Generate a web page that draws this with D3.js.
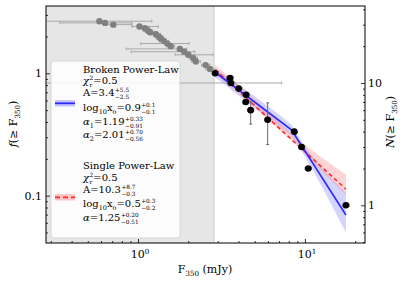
<!DOCTYPE html>
<html>
<head>
<meta charset="utf-8">
<script src="https://cdn.jsdelivr.net/npm/d3@7"></script>
<style>
  body { margin: 0; background: #fff; }
  text { font-family: "DejaVu Serif", serif; fill: #000; white-space: pre; }
</style>
</head>
<body>
<svg id="chart"></svg>
<script>
// completeness limit (mJy)
const fluxLimit = 2.85;

// gray points (below the limit): flux, N, flux error range
const grayFlux = [0.2, 0.587, 0.634, 0.711, 1.02, 1.10, 1.14, 1.18, 1.28, 1.33, 1.37, 1.43, 1.50, 1.57, 1.78, 1.89, 2.00, 2.14, 2.22, 2.54, 2.70];
const grayN    = [10, 32, 31, 30, 29, 28, 27, 26, 25, 24, 23, 22, 21, 20, 19, 18, 17, 16, 15, 14, 13];
const grayLo   = [0.1, 0.25, 0.34, 0.65, 0.92, 1.04, 1.08, 1.12, 1.21, 1.26, 1.30, 1.35, 1.04, 1.49, 0.85, 0.91, 1.67, 2.02, 2.10, 2.40, 2.55];
const grayHi   = [7.25, 1.21, 0.92, 0.92, 1.32, 1.17, 1.21, 1.25, 1.36, 1.41, 1.45, 1.52, 2.02, 1.66, 1.96, 2.19, 2.81, 2.27, 2.36, 2.69, 2.86];

// black points (above the limit)
const blackFlux = [2.90, 3.56, 3.60, 4.01, 4.44, 4.42, 4.73, 5.98, 8.63, 9.55, 10.47, 17.6];
const blackN    = [12, 11, 10, 9, 8, 7, 6, 5, 4, 3, 2, 1];
const blackNLo  = [11.6, 10.6, 9.6, 8.6, 7.7, 6.7, 4.61, 3.14, 3.85, 2.9, 1.93, 0.97];
const blackNHi  = [12.4, 11.4, 10.4, 9.4, 8.3, 7.3, 7.03, 6.88, 4.15, 3.1, 2.07, 1.03];
const blackFLo  = [2.78, 3.40, 3.45, 3.84, 4.25, 4.24, 4.53, 5.73, 8.27, 9.15, 10.03, 16.9];
const blackFHi  = [3.02, 3.72, 3.76, 4.19, 4.64, 4.61, 4.94, 6.24, 9.00, 9.96, 10.92, 18.4];
const totalN = 12;

// broken power-law fit (f) and band
const brokenFlux = [2.9, 8.3, 17.6];
const brokenF    = [1.02, 0.345, 0.0695];
const brokenBandFlux = [2.9, 4.5, 7.0, 8.3, 10, 13, 17.6];
const brokenBandLo   = [0.93, 0.58, 0.37, 0.31, 0.21, 0.11, 0.050];
const brokenBandHi   = [1.10, 0.72, 0.46, 0.38, 0.25, 0.16, 0.105];

// single power-law fit (f) and band
const singleFlux = [2.9, 17.6];
const singleF    = [1.07, 0.113];
const singleBandFlux = [2.9, 4.5, 7.0, 9.0, 12, 17.6];
const singleBandLo   = [0.98, 0.60, 0.345, 0.255, 0.17, 0.101];
const singleBandHi   = [1.17, 0.70, 0.40, 0.29, 0.215, 0.148];

const xMajor = [1, 10];
const xMinor = [0.3, 0.4, 0.5, 0.6, 0.7, 0.8, 0.9, 2, 3, 4, 5, 6, 7, 8, 9, 20];
const fMajor = [0.1, 1];
const fMinor = [0.05, 0.06, 0.07, 0.08, 0.09, 0.2, 0.3, 0.4, 0.5, 0.6, 0.7, 0.8, 0.9, 2, 3];
const nMajor = [1, 10];
const nMinor = [0.5, 0.6, 0.7, 0.8, 0.9, 2, 3, 4, 5, 6, 7, 8, 9, 20, 30, 40];

const width = 407, height = 283;
const mLeft = 46, mRight = 365, mTop = 6, mBottom = 243;

const svg = d3.select("#chart").attr("width", width).attr("height", height);

const x = d3.scaleLog().domain([0.281, 22.9]).range([mLeft, mRight]);
const y = d3.scaleLog().domain([0.041, 3.55]).range([mBottom, mTop]);
const yN = d3.scaleLog().domain([0.041 * totalN, 3.55 * totalN]).range([mBottom, mTop]);

svg.append("clipPath").attr("id", "clip")
  .append("rect").attr("x", mLeft).attr("y", mTop).attr("width", mRight - mLeft).attr("height", mBottom - mTop);

const plot = svg.append("g").attr("clip-path", "url(#clip)");

// shaded incomplete region
plot.append("rect")
  .attr("x", mLeft).attr("y", mTop)
  .attr("width", x(fluxLimit) - mLeft).attr("height", mBottom - mTop)
  .attr("fill", "#e6e6e6");
plot.append("line")
  .attr("x1", x(fluxLimit)).attr("x2", x(fluxLimit)).attr("y1", mTop).attr("y2", mBottom)
  .attr("stroke", "#d6d6d6").attr("stroke-width", 1.5);

// bands
const band = (fl, lo, hi) => d3.area()
  .x((d, i) => x(fl[i])).y0((d, i) => y(lo[i])).y1((d, i) => y(hi[i]))(fl);
plot.append("path").attr("d", band(brokenBandFlux, brokenBandLo, brokenBandHi))
  .attr("fill", "#7878ff").attr("fill-opacity", 0.32);
plot.append("path").attr("d", band(singleBandFlux, singleBandLo, singleBandHi))
  .attr("fill", "#ff7878").attr("fill-opacity", 0.32);

// gray error bars + points
const grayIdx = d3.range(grayFlux.length);
plot.selectAll(".gerr").data(grayIdx).enter().append("line")
  .attr("x1", i => x(grayLo[i])).attr("x2", i => x(grayHi[i]))
  .attr("y1", i => y(grayN[i] / totalN)).attr("y2", i => y(grayN[i] / totalN))
  .attr("stroke", "#a8a8a8").attr("stroke-width", 1);
plot.selectAll(".gcapL").data(grayIdx).enter().append("line")
  .attr("x1", i => x(grayLo[i])).attr("x2", i => x(grayLo[i]))
  .attr("y1", i => y(grayN[i] / totalN) - 1.5).attr("y2", i => y(grayN[i] / totalN) + 1.5)
  .attr("stroke", "#a8a8a8");
plot.selectAll(".gcapR").data(grayIdx).enter().append("line")
  .attr("x1", i => x(grayHi[i])).attr("x2", i => x(grayHi[i]))
  .attr("y1", i => y(grayN[i] / totalN) - 1.5).attr("y2", i => y(grayN[i] / totalN) + 1.5)
  .attr("stroke", "#a8a8a8");
plot.selectAll(".gpt").data(grayIdx).enter().append("circle")
  .attr("cx", i => x(grayFlux[i])).attr("cy", i => y(grayN[i] / totalN))
  .attr("r", 3.2).attr("fill", "#808080");

// fit lines
const line = (fl, fv) => d3.line().x((d, i) => x(fl[i])).y((d, i) => y(fv[i]))(fl);
plot.append("path").attr("d", line(singleFlux, singleF))
  .attr("fill", "none").attr("stroke", "#ff2a2a").attr("stroke-width", 1.6)
  .attr("stroke-dasharray", "4,3");
plot.append("path").attr("d", line(brokenFlux, brokenF))
  .attr("fill", "none").attr("stroke", "#2a2aff").attr("stroke-width", 1.6);

// black error bars + points
const blackIdx = d3.range(blackFlux.length);
const eb = plot.append("g").attr("stroke", "#6a6a6a").attr("stroke-width", 1);
blackIdx.forEach(i => {
  const cx = x(blackFlux[i]), cy = yN(blackN[i]);
  eb.append("line").attr("x1", x(blackFLo[i])).attr("x2", x(blackFHi[i])).attr("y1", cy).attr("y2", cy);
  eb.append("line").attr("x1", x(blackFLo[i])).attr("x2", x(blackFLo[i])).attr("y1", cy - 1.5).attr("y2", cy + 1.5);
  eb.append("line").attr("x1", x(blackFHi[i])).attr("x2", x(blackFHi[i])).attr("y1", cy - 1.5).attr("y2", cy + 1.5);
  eb.append("line").attr("x1", cx).attr("x2", cx).attr("y1", yN(blackNLo[i])).attr("y2", yN(blackNHi[i]));
  eb.append("line").attr("x1", cx - 1.5).attr("x2", cx + 1.5).attr("y1", yN(blackNLo[i])).attr("y2", yN(blackNLo[i]));
  eb.append("line").attr("x1", cx - 1.5).attr("x2", cx + 1.5).attr("y1", yN(blackNHi[i])).attr("y2", yN(blackNHi[i]));
});
plot.selectAll(".bpt").data(blackIdx).enter().append("circle")
  .attr("cx", i => x(blackFlux[i])).attr("cy", i => yN(blackN[i]))
  .attr("r", 3.3).attr("fill", "#000");

// axes (inward ticks)
const tickAxis = (axis, vals, size, tr) => {
  const g = svg.append("g").attr("transform", tr)
    .call(axis.tickValues(vals).tickSize(size).tickFormat(""));
  g.select(".domain").remove();
  g.selectAll("line").attr("stroke", "#000").attr("stroke-width", 0.8);
};
tickAxis(d3.axisBottom(x), xMajor, -4, `translate(0,${mBottom})`);
tickAxis(d3.axisBottom(x), xMinor, -2, `translate(0,${mBottom})`);
tickAxis(d3.axisLeft(y), fMajor, -4, `translate(${mLeft},0)`);
tickAxis(d3.axisLeft(y), fMinor, -2, `translate(${mLeft},0)`);
tickAxis(d3.axisRight(yN), nMajor, -4, `translate(${mRight},0)`);
tickAxis(d3.axisRight(yN), nMinor, -2, `translate(${mRight},0)`);

svg.append("rect")
  .attr("x", mLeft).attr("y", mTop).attr("width", mRight - mLeft).attr("height", mBottom - mTop)
  .attr("fill", "none").attr("stroke", "#000").attr("stroke-width", 1);

// rich text helper: parts {t, it, sub, sup, stack:[sup, sub]}
function rich(g, x0, y0, parts, size) {
  let cx = x0;
  parts.forEach(p => {
    if (p.stack) {
      const a = g.append("text").attr("x", cx + 0.5).attr("y", y0 - size * 0.42).attr("font-size", size * 0.58).text(p.stack[0]);
      const b = g.append("text").attr("x", cx + 0.5).attr("y", y0 + size * 0.32).attr("font-size", size * 0.58).text(p.stack[1]);
      cx += 0.5 + Math.max(a.node().getComputedTextLength(), b.node().getComputedTextLength());
    } else {
      const dy = p.sub ? size * 0.3 : p.sup ? -size * 0.4 : 0;
      const fs = (p.sub || p.sup) ? size * 0.65 : size;
      const t = g.append("text").attr("x", cx).attr("y", y0 + dy).attr("font-size", fs)
        .attr("font-style", p.it ? "italic" : null).text(p.t);
      cx += t.node().getComputedTextLength();
    }
  });
  return cx - x0;
}
function centered(parts, size, tr) {
  const g = svg.append("g").attr("transform", tr);
  const inner = g.append("g");
  const w = rich(inner, 0, 0, parts, size);
  inner.attr("transform", `translate(${-w / 2},0)`);
}

// tick labels
xMajor.forEach((v, i) => centered([{ t: "10" }, { t: String(i), sup: true }], 11, `translate(${x(v) + 2},${mBottom + 15})`));
svg.selectAll(".fl").data(fMajor).enter().append("text")
  .attr("x", mLeft - 4).attr("y", d => y(d) + 4).attr("text-anchor", "end").attr("font-size", 11)
  .text(d => d);
svg.selectAll(".nl").data(nMajor).enter().append("text")
  .attr("x", mRight + 3).attr("y", d => yN(d) + 4).attr("font-size", 11)
  .text(d => d);

// axis titles
centered([{ t: "F" }, { t: "350", sub: true }, { t: "\u00a0(mJy)" }], 11, `translate(205,${mBottom + 30})`);
centered([{ t: "f", it: true }, { t: "(≥\u00a0F" }, { t: "350", sub: true }, { t: ")" }], 11, "translate(17,124) rotate(-90)");
centered([{ t: "N", it: true }, { t: "(≥\u00a0F" }, { t: "350", sub: true }, { t: ")" }], 11, "translate(394,122) rotate(-90)");

// legend
const lg = svg.append("g");
lg.append("rect").attr("x", 51).attr("y", 61).attr("width", 129).attr("height", 177).attr("rx", 3)
  .attr("fill", "#fff").attr("fill-opacity", 0.85).attr("stroke", "#d0d0d0").attr("stroke-width", 0.8);
lg.append("rect").attr("x", 55).attr("y", 100).attr("width", 20).attr("height", 6.5)
  .attr("fill", "#7878ff").attr("fill-opacity", 0.4);
lg.append("line").attr("x1", 55).attr("x2", 75).attr("y1", 103.3).attr("y2", 103.3)
  .attr("stroke", "#2a2aff").attr("stroke-width", 1.8);
lg.append("rect").attr("x", 55).attr("y", 194).attr("width", 20).attr("height", 6.5)
  .attr("fill", "#ff7878").attr("fill-opacity", 0.4);
lg.append("line").attr("x1", 55).attr("x2", 75).attr("y1", 197.3).attr("y2", 197.3)
  .attr("stroke", "#ff2a2a").attr("stroke-width", 1.8).attr("stroke-dasharray", "5,3");

const fs = 10, tx = 83;
rich(lg, tx, 73, [{ t: "Broken Power-Law" }], fs);
rich(lg, tx, 84, [{ t: "χ", it: true }, { stack: ["2", "r"] }, { t: "=0.5" }], fs);
rich(lg, tx, 96, [{ t: "A=3.4" }, { stack: ["+5.5", "−2.5"] }], fs);
rich(lg, tx, 111, [{ t: "log" }, { t: "10", sub: true }, { t: "x" }, { t: "o", sub: true }, { t: "=0.9" }, { stack: ["+0.1", "−0.1"] }], fs);
rich(lg, tx, 125, [{ t: "α", it: true }, { t: "1", sub: true }, { t: "=1.19" }, { stack: ["+0.33", "−0.91"] }], fs);
rich(lg, tx, 138, [{ t: "α", it: true }, { t: "2", sub: true }, { t: "=2.01" }, { stack: ["+0.70", "−0.56"] }], fs);

rich(lg, tx, 169, [{ t: "Single Power-Law" }], fs);
rich(lg, tx, 181, [{ t: "χ", it: true }, { stack: ["2", "r"] }, { t: "=0.5" }], fs);
rich(lg, tx, 193, [{ t: "A=10.3" }, { stack: ["+8.7", "−0.3"] }], fs);
rich(lg, tx, 207, [{ t: "log" }, { t: "10", sub: true }, { t: "x" }, { t: "o", sub: true }, { t: "=0.5" }, { stack: ["+0.3", "−0.2"] }], fs);
rich(lg, tx, 221, [{ t: "α", it: true }, { t: "=1.25" }, { stack: ["+0.20", "−0.51"] }], fs);
</script>
</body>
</html>
